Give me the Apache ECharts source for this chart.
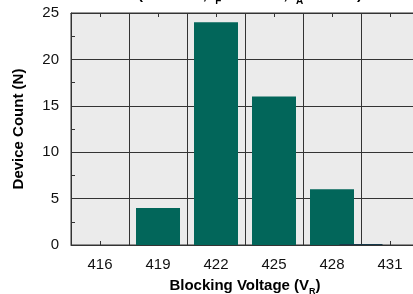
<!DOCTYPE html>
<html>
<head>
<meta charset="utf-8">
<script src="https://cdn.jsdelivr.net/npm/echarts@6/dist/echarts.min.js"></script>
<style>
  html, body { margin: 0; padding: 0; background: #fff; }
  #chart { width: 413px; height: 294px; }
</style>
</head>
<body>
<div id="chart"></div>
<script>
// blocking voltage bins (V) and device counts
const voltages = ['416', '419', '422', '425', '428', '431'];
const counts = [0, 4, 24, 16, 6, 0];
// the thin sliver drawn on the 428/431 boundary
const sliverAt = [429.5];
const sliverCount = [0.12];
const yTicks = { min: 0, max: 25, step: 5 };

const barColor = '#02665a';
const lineColor = '#333';
const font = '"Liberation Sans", Arial, Helvetica, sans-serif';

const chart = echarts.init(document.getElementById('chart'));

const option = {
  animation: false,
  title: {
    text: '{a|(T = 25°C, I}{s|F}{a| = 10 mA, I}{s|A}{a| = 1 mA)}',
    left: 245,
    textAlign: 'center',
    top: -18,
    textStyle: {
      rich: {
        a: { fontFamily: font, fontWeight: 'bold', fontSize: 15, lineHeight: 17, verticalAlign: 'top', color: '#000' },
        s: { fontFamily: font, fontWeight: 'bold', fontSize: 10, lineHeight: 11, padding: [9, 0, 0, 0], verticalAlign: 'top', color: '#000' }
      }
    }
  },
  grid: {
    left: 71, top: 13, width: 348, height: 232,
    show: true, backgroundColor: '#ebebeb', borderColor: lineColor, borderWidth: 1,
    outerBoundsMode: 'none'
  },
  xAxis: [
    {
      type: 'category',
      data: voltages,
      position: 'bottom',
      boundaryGap: true,
      name: '{a|Blocking Voltage (V}{s|R}{a|)}',
      nameLocation: 'middle',
      nameGap: 33,
      nameTextStyle: {
        rich: {
          a: { fontFamily: font, fontWeight: 'bold', fontSize: 15, lineHeight: 17, verticalAlign: 'top', color: '#000' },
          s: { fontFamily: font, fontWeight: 'bold', fontSize: 9, lineHeight: 10, padding: [9, 0, 0, 0], verticalAlign: 'top', color: '#000' }
        }
      },
      axisLine: { lineStyle: { color: lineColor, width: 1 } },
      axisTick: { show: true, alignWithLabel: true, inside: true, length: 4, lineStyle: { color: lineColor } },
      axisLabel: { fontFamily: font, fontSize: 15, color: '#111', margin: 12 },
      splitLine: { show: true, lineStyle: { color: lineColor, width: 1 } }
    },
    {
      type: 'category',
      data: voltages,
      position: 'top',
      boundaryGap: true,
      axisLine: { lineStyle: { color: lineColor, width: 1 } },
      axisTick: { show: true, alignWithLabel: true, inside: true, length: 4, lineStyle: { color: lineColor } },
      axisLabel: { show: false },
      splitLine: { show: false }
    },
    {
      type: 'value',
      min: 414.5,
      max: 432.5,
      position: 'bottom',
      show: false
    }
  ],
  yAxis: {
    type: 'value',
    min: yTicks.min,
    max: yTicks.max,
    interval: yTicks.step,
    name: 'Device Count (N)',
    nameLocation: 'middle',
    nameGap: 45,
    nameTextStyle: { fontFamily: font, fontWeight: 'bold', fontSize: 15, color: '#000' },
    axisLine: { show: true, lineStyle: { color: lineColor, width: 1 } },
    axisTick: { show: true, inside: true, length: 4, lineStyle: { color: lineColor } },
    minorTick: { show: true, splitNumber: 2, length: 4, lineStyle: { color: lineColor } },
    axisLabel: { fontFamily: font, fontSize: 15, color: '#111', margin: 12 },
    splitLine: { show: true, lineStyle: { color: lineColor, width: 1 } }
  },
  series: [
    {
      type: 'bar',
      xAxisIndex: 0,
      data: counts,
      barWidth: 44,
      itemStyle: { color: barColor }
    },
    {
      type: 'bar',
      xAxisIndex: 2,
      data: sliverAt.map((v, i) => [v, sliverCount[i]]),
      barWidth: 43,
      itemStyle: { color: '#16394a' }
    }
  ]
};

chart.setOption(option);
</script>
</body>
</html>
